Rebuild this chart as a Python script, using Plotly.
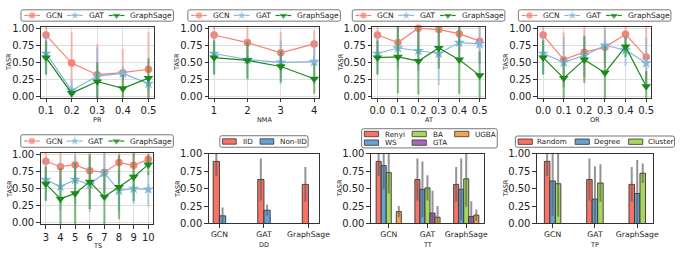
import plotly.graph_objects as go

W, H = 692, 258
FONT = "DejaVu Sans"

# ---------------- data ----------------
MODELS = ["GCN", "GAT", "GraphSage"]

PR_X = [0.1, 0.2, 0.3, 0.4, 0.5]
PR_GCN = [0.90, 0.49, 0.32, 0.35, 0.40]
PR_GCN_ERR = [0.21, 0.45, 0.45, 0.35, 0.54]
PR_GAT = [0.63, 0.09, 0.30, 0.34, 0.19]
PR_GAT_ERR = [0.30, 0.15, 0.42, 0.10, 0.10]
PR_SAGE = [0.57, 0.05, 0.22, 0.12, 0.27]
PR_SAGE_ERR = [0.25, 0.05, 0.28, 0.20, 0.29]

NMA_X = [1, 2, 3, 4]
NMA_GCN = [0.90, 0.79, 0.64, 0.77]
NMA_GCN_ERR = [0.21, 0.25, 0.30, 0.20]
NMA_GAT = [0.63, 0.54, 0.50, 0.51]
NMA_GAT_ERR = [0.30, 0.30, 0.32, 0.32]
NMA_SAGE = [0.57, 0.53, 0.44, 0.26]
NMA_SAGE_ERR = [0.25, 0.27, 0.23, 0.22]

AT_X = [0.0, 0.1, 0.2, 0.3, 0.4, 0.5]
AT_GCN = [0.90, 0.79, 1.00, 0.98, 0.92, 0.81]
AT_GCN_ERR = [0.21, 0.30, 0.30, 0.30, 0.25, 0.30]
AT_GAT = [0.63, 0.71, 0.67, 0.63, 0.79, 0.77]
AT_GAT_ERR = [0.30, 0.30, 0.30, 0.46, 0.25, 0.30]
AT_SAGE = [0.57, 0.58, 0.52, 0.71, 0.54, 0.31]
AT_SAGE_ERR = [0.25, 0.53, 0.49, 0.30, 0.50, 0.35]

OR_X = [0.0, 0.1, 0.2, 0.3, 0.4, 0.5]
OR_GCN = [0.90, 0.54, 0.65, 0.72, 0.91, 0.58]
OR_GCN_ERR = [0.21, 0.40, 0.38, 0.30, 0.20, 0.45]
OR_GAT = [0.63, 0.50, 0.60, 0.75, 0.68, 0.49]
OR_GAT_ERR = [0.30, 0.37, 0.30, 0.25, 0.23, 0.37]
OR_SAGE = [0.57, 0.27, 0.54, 0.35, 0.73, 0.15]
OR_SAGE_ERR = [0.25, 0.30, 0.34, 0.40, 0.15, 0.22]

TS_X = [3, 4, 5, 6, 7, 8, 9, 10]
TS_GCN = [0.90, 0.82, 0.85, 0.76, 0.74, 0.88, 0.84, 0.93]
TS_GCN_ERR = [0.21, 0.30, 0.30, 0.35, 0.30, 0.25, 0.25, 0.12]
TS_GAT = [0.63, 0.53, 0.63, 0.56, 0.73, 0.47, 0.50, 0.49]
TS_GAT_ERR = [0.30, 0.35, 0.35, 0.40, 0.30, 0.30, 0.22, 0.25]
TS_SAGE = [0.57, 0.35, 0.43, 0.60, 0.38, 0.52, 0.67, 0.85]
TS_SAGE_ERR = [0.25, 0.45, 0.45, 0.40, 0.40, 0.47, 0.35, 0.15]

DD_IID = [0.89, 0.63, 0.56]
DD_IID_ERR = [0.21, 0.30, 0.25]
DD_NONIID = [0.11, 0.19, 0.0]
DD_NONIID_ERR = [0.12, 0.08, 0.0]

TT_RENYI = [0.89, 0.63, 0.56]
TT_RENYI_ERR = [0.21, 0.30, 0.25]
TT_WS = [0.83, 0.49, 0.49]
TT_WS_ERR = [0.34, 0.40, 0.44]
TT_BA = [0.73, 0.51, 0.64]
TT_BA_ERR = [0.30, 0.18, 0.40]
TT_GTA = [0.0, 0.15, 0.10]
TT_GTA_ERR = [0.0, 0.32, 0.22]
TT_UGBA = [0.17, 0.09, 0.12]
TT_UGBA_ERR = [0.08, 0.16, 0.08]

TP_RANDOM = [0.89, 0.63, 0.56]
TP_RANDOM_ERR = [0.21, 0.30, 0.25]
TP_DEGREE = [0.61, 0.35, 0.43]
TP_DEGREE_ERR = [0.50, 0.47, 0.48]
TP_CLUSTER = [0.57, 0.58, 0.72]
TP_CLUSTER_ERR = [0.47, 0.27, 0.14]

Y_TICKS = [0.0, 0.25, 0.5, 0.75, 1.0]

# ---------------- styles ----------------
LINE_STYLE = {
    "GCN": dict(color="#FA8072", err="rgba(250,128,114,0.45)", symbol="circle", size=7.5),
    "GAT": dict(color="#84B6E0", err="rgba(132,182,224,0.55)", symbol="star", size=8.5),
    "GraphSage": dict(color="#1A8A1A", err="rgba(26,138,26,0.5)", symbol="triangle-down", size=8.5),
}
RED, BLUE, GREEN, PURPLE, ORANGE = "#F87366", "#66A3D2", "#A8D75C", "#AA66B8", "#F5A54E"

# panel frames in pixels: x0, x1, y0(top), y1(bottom)
FRAMES = {
    1: (38.7, 153.7, 22.7, 96.7),
    2: (210.3, 322.7, 22.7, 96.7),
    3: (377.0, 491.7, 22.7, 96.7),
    4: (546.0, 661.7, 22.7, 96.7),
    5: (38.5, 153.5, 154.0, 228.0),
    6: (210.0, 322.7, 154.7, 227.3),
    7: (375.5, 491.0, 154.7, 227.3),
    8: (545.0, 663.3, 154.7, 227.3),
}

AX = dict(showline=True, mirror=True, linecolor="#333", linewidth=1, ticks="outside",
          ticklen=3.5, tickwidth=1, tickcolor="#333", zeroline=False, fixedrange=True,
          tickfont=dict(size=10, family=FONT, color="#222"))

fig = go.Figure()
layout = dict(width=W, height=H, margin=dict(l=0, r=0, t=0, b=0), autosize=False,
              paper_bgcolor="white", plot_bgcolor="rgba(0,0,0,0)", showlegend=False,
              barmode="overlay", font=dict(family=FONT, color="#222"))
shapes, annotations = [], []


def ax_ids(i):
    s = "" if i == 1 else str(i)
    return "x" + s, "y" + s, "xaxis" + s, "yaxis" + s


def set_axes(i, xextra, yextra):
    x0, x1, y0, y1 = FRAMES[i]
    xa, ya, xk, yk = ax_ids(i)
    layout[xk] = dict(AX, domain=[x0 / W, x1 / W], anchor=ya, **xextra)
    layout[yk] = dict(AX, domain=[1 - y1 / H, 1 - y0 / H], anchor=xa, **yextra)
    cx = (x0 + x1) / 2
    return xa, ya, cx


def axis_titles(i, xtitle):
    x0, x1, y0, y1 = FRAMES[i]
    annotations.append(dict(text=xtitle, x=(x0 + x1) / 2, y=y1 + 22.5, xref="x9", yref="y9",
                            showarrow=False, xanchor="center", yanchor="middle",
                            font=dict(size=6.5, family=FONT, color="#222")))
    annotations.append(dict(text="TASR", x=x0 - 32, y=(y0 + y1) / 2, xref="x9", yref="y9",
                            showarrow=False, textangle=-90, xanchor="center", yanchor="middle",
                            font=dict(size=6.5, family=FONT, color="#222")))


CHAR_W = {" ": .318, "-": .361, ".": .318, "A": .684, "B": .686, "C": .698, "D": .770,
          "G": .775, "I": .295, "N": .748, "R": .695, "S": .635, "T": .611, "U": .732,
          "W": .989, "M": .863, "P": .603, "a": .613, "c": .550, "d": .635, "e": .615,
          "g": .635, "h": .634, "i": .278, "l": .278, "m": .974, "n": .634, "o": .612,
          "p": .635, "r": .411, "s": .521, "t": .392, "u": .634, "y": .592}


def text_w(s, fs):
    return fs * sum(CHAR_W.get(c, 0.62) for c in s)


def rrect(x0, y0, x1, y1, r=2.0):
    return (f"M{x0 + r},{y0} L{x1 - r},{y0} Q{x1},{y0} {x1},{y0 + r} L{x1},{y1 - r} "
            f"Q{x1},{y1} {x1 - r},{y1} L{x0 + r},{y1} Q{x0},{y1} {x0},{y1 - r} "
            f"L{x0},{y0 + r} Q{x0},{y0} {x0 + r},{y0} Z")


def add_legend(cx, y0, y1, columns, kind, fs, pad, hl, tp, cs, row_ys):
    col_w = [max(text_w(e[0], fs) for e in col) for col in columns]
    total = 2 * pad + sum(hl + tp + w for w in col_w) + cs * (len(columns) - 1)
    lx = cx - total / 2
    shapes.append(dict(type="path", path=rrect(lx, y0, lx + total, y1), xref="x9", yref="y9",
                       line=dict(color="#555", width=0.8), fillcolor="rgba(0,0,0,0)"))
    x = lx + pad
    for ci, col in enumerate(columns):
        for ri, entry in enumerate(col):
            label = entry[0]
            yc = row_ys[ri]
            if kind == "line":
                st = LINE_STYLE[label]
                fig.add_trace(go.Scatter(
                    x=[x, x + hl / 2, x + hl], y=[yc] * 3, mode="lines+markers",
                    line=dict(color=st["color"], width=1.2),
                    marker=dict(symbol=st["symbol"], size=[0, st["size"], 0], color=st["color"]),
                    xaxis="x9", yaxis="y9", hoverinfo="skip", cliponaxis=False))
            else:
                shapes.append(dict(type="rect", x0=x, x1=x + hl, y0=yc - 2.8, y1=yc + 2.8,
                                   xref="x9", yref="y9", fillcolor=entry[1],
                                   line=dict(color="#333", width=0.8)))
            annotations.append(dict(text=label, x=x + hl + tp - 1, y=yc, xref="x9", yref="y9",
                                    xanchor="left", yanchor="middle", showarrow=False,
                                    font=dict(size=fs, family=FONT, color="#222")))
        x += hl + tp + col_w[ci] + cs


# ---------------- line panels ----------------
LINE_PANELS = [
    (1, "PR", PR_X, [0.08, 0.52], ".1f",
     [("GCN", PR_GCN, PR_GCN_ERR), ("GAT", PR_GAT, PR_GAT_ERR), ("GraphSage", PR_SAGE, PR_SAGE_ERR)]),
    (2, "NMA", NMA_X, [0.85, 4.15], "d",
     [("GCN", NMA_GCN, NMA_GCN_ERR), ("GAT", NMA_GAT, NMA_GAT_ERR), ("GraphSage", NMA_SAGE, NMA_SAGE_ERR)]),
    (3, "AT", AT_X, [-0.025, 0.525], ".1f",
     [("GCN", AT_GCN, AT_GCN_ERR), ("GAT", AT_GAT, AT_GAT_ERR), ("GraphSage", AT_SAGE, AT_SAGE_ERR)]),
    (4, "OR", OR_X, [-0.025, 0.525], ".1f",
     [("GCN", OR_GCN, OR_GCN_ERR), ("GAT", OR_GAT, OR_GAT_ERR), ("GraphSage", OR_SAGE, OR_SAGE_ERR)]),
    (5, "TS", TS_X, [2.65, 10.35], "d",
     [("GCN", TS_GCN, TS_GCN_ERR), ("GAT", TS_GAT, TS_GAT_ERR), ("GraphSage", TS_SAGE, TS_SAGE_ERR)]),
]

GRID = dict(showgrid=True, gridcolor="#DEDEDE", gridwidth=1)

for i, title, X, xr, fmt, series in LINE_PANELS:
    xa, ya, cx = set_axes(
        i,
        dict(GRID, range=xr, tickvals=X, tickformat=fmt),
        dict(GRID, range=[-0.02, 1.02], tickvals=Y_TICKS, tickformat=".2f"),
    )
    for name, ys, es in series:
        st = LINE_STYLE[name]
        fig.add_trace(go.Scatter(
            x=X, y=ys, mode="markers", marker=dict(size=1, opacity=0, color=st["color"]),
            error_y=dict(type="data", array=es, color=st["err"], thickness=2.2, width=0),
            xaxis=xa, yaxis=ya, hoverinfo="skip"))
        fig.add_trace(go.Scatter(
            x=X, y=ys, mode="lines+markers", name=name,
            line=dict(color=st["color"], width=1.2),
            marker=dict(symbol=st["symbol"], size=st["size"], color=st["color"], line=dict(width=0)),
            cliponaxis=False, xaxis=xa, yaxis=ya))
    axis_titles(i, title)
    if i <= 4:
        add_legend(cx, 5.0, 16.8, [[(m,)] for m in MODELS], "line", 7.5, 3.4, 16, 5, 6, [10.9])
    else:
        add_legend(cx, 135.0, 148.0, [[(m,)] for m in MODELS], "line", 7.5, 3.4, 16, 5, 6, [141.5])

# ---------------- bar panels ----------------
BAR_PANELS = [
    (6, "DD", 0.14, 0.24,
     [("IID", DD_IID, DD_IID_ERR, RED), ("Non-IID", DD_NONIID, DD_NONIID_ERR, BLUE)]),
    (7, "TT", 0.13, 0.46,
     [("Renyi", TT_RENYI, TT_RENYI_ERR, RED), ("WS", TT_WS, TT_WS_ERR, BLUE),
      ("BA", TT_BA, TT_BA_ERR, GREEN), ("GTA", TT_GTA, TT_GTA_ERR, PURPLE),
      ("UGBA", TT_UGBA, TT_UGBA_ERR, ORANGE)]),
    (8, "TP", 0.13, 0.37,
     [("Random", TP_RANDOM, TP_RANDOM_ERR, RED), ("Degree", TP_DEGREE, TP_DEGREE_ERR, BLUE),
      ("Cluster", TP_CLUSTER, TP_CLUSTER_ERR, GREEN)]),
]

for i, title, w, pad_r, groups in BAR_PANELS:
    xa, ya, cx = set_axes(
        i,
        dict(type="category", range=[-pad_r, len(MODELS) - 1 + pad_r], showgrid=False,
             tickfont=dict(size=7.7, family=FONT, color="#222")),
        dict(range=[0, 1.0], tickvals=Y_TICKS, tickformat=".2f", showgrid=False),
    )
    n = len(groups)
    for k, (name, vals, errs, color) in enumerate(groups):
        fig.add_trace(go.Bar(
            x=MODELS, y=vals, name=name, width=w, offset=(k - n / 2) * w,
            marker=dict(color=color, line=dict(color="#333", width=0.9)),
            error_y=dict(type="data", array=errs, color="rgba(90,90,90,0.65)", thickness=2, width=0),
            xaxis=xa, yaxis=ya))
    axis_titles(i, title)
    entries = [(g[0], g[3]) for g in groups]
    if i == 6:
        add_legend(cx, 136.0, 148.0, [[e] for e in entries], "bar", 7.2, 2.8, 14, 5.5, 9, [142])
    elif i == 7:
        cols = [[entries[0], entries[1]], [entries[2], entries[3]], [entries[4]]]
        add_legend(cx + 2, 128.7, 148.7, cols, "bar", 7.2, 2.8, 14.5, 5.5, 8.5, [134.2, 143.2])
    else:
        add_legend(cx, 136.3, 148.0, [[e] for e in entries], "bar", 7.2, 2.8, 14.5, 4, 9.7, [142.2])

# overlay pixel-space axes for legends and titles
layout["xaxis9"] = dict(domain=[0, 1], range=[0, W], visible=False, fixedrange=True, anchor="y9")
layout["yaxis9"] = dict(domain=[0, 1], range=[H, 0], visible=False, fixedrange=True, anchor="x9")
layout["shapes"] = shapes
layout["annotations"] = annotations
fig.update_layout(**layout)

fig.write_html("out.html", config={"displayModeBar": False, "staticPlot": True},
               post_script="document.body.style.margin='0';")
